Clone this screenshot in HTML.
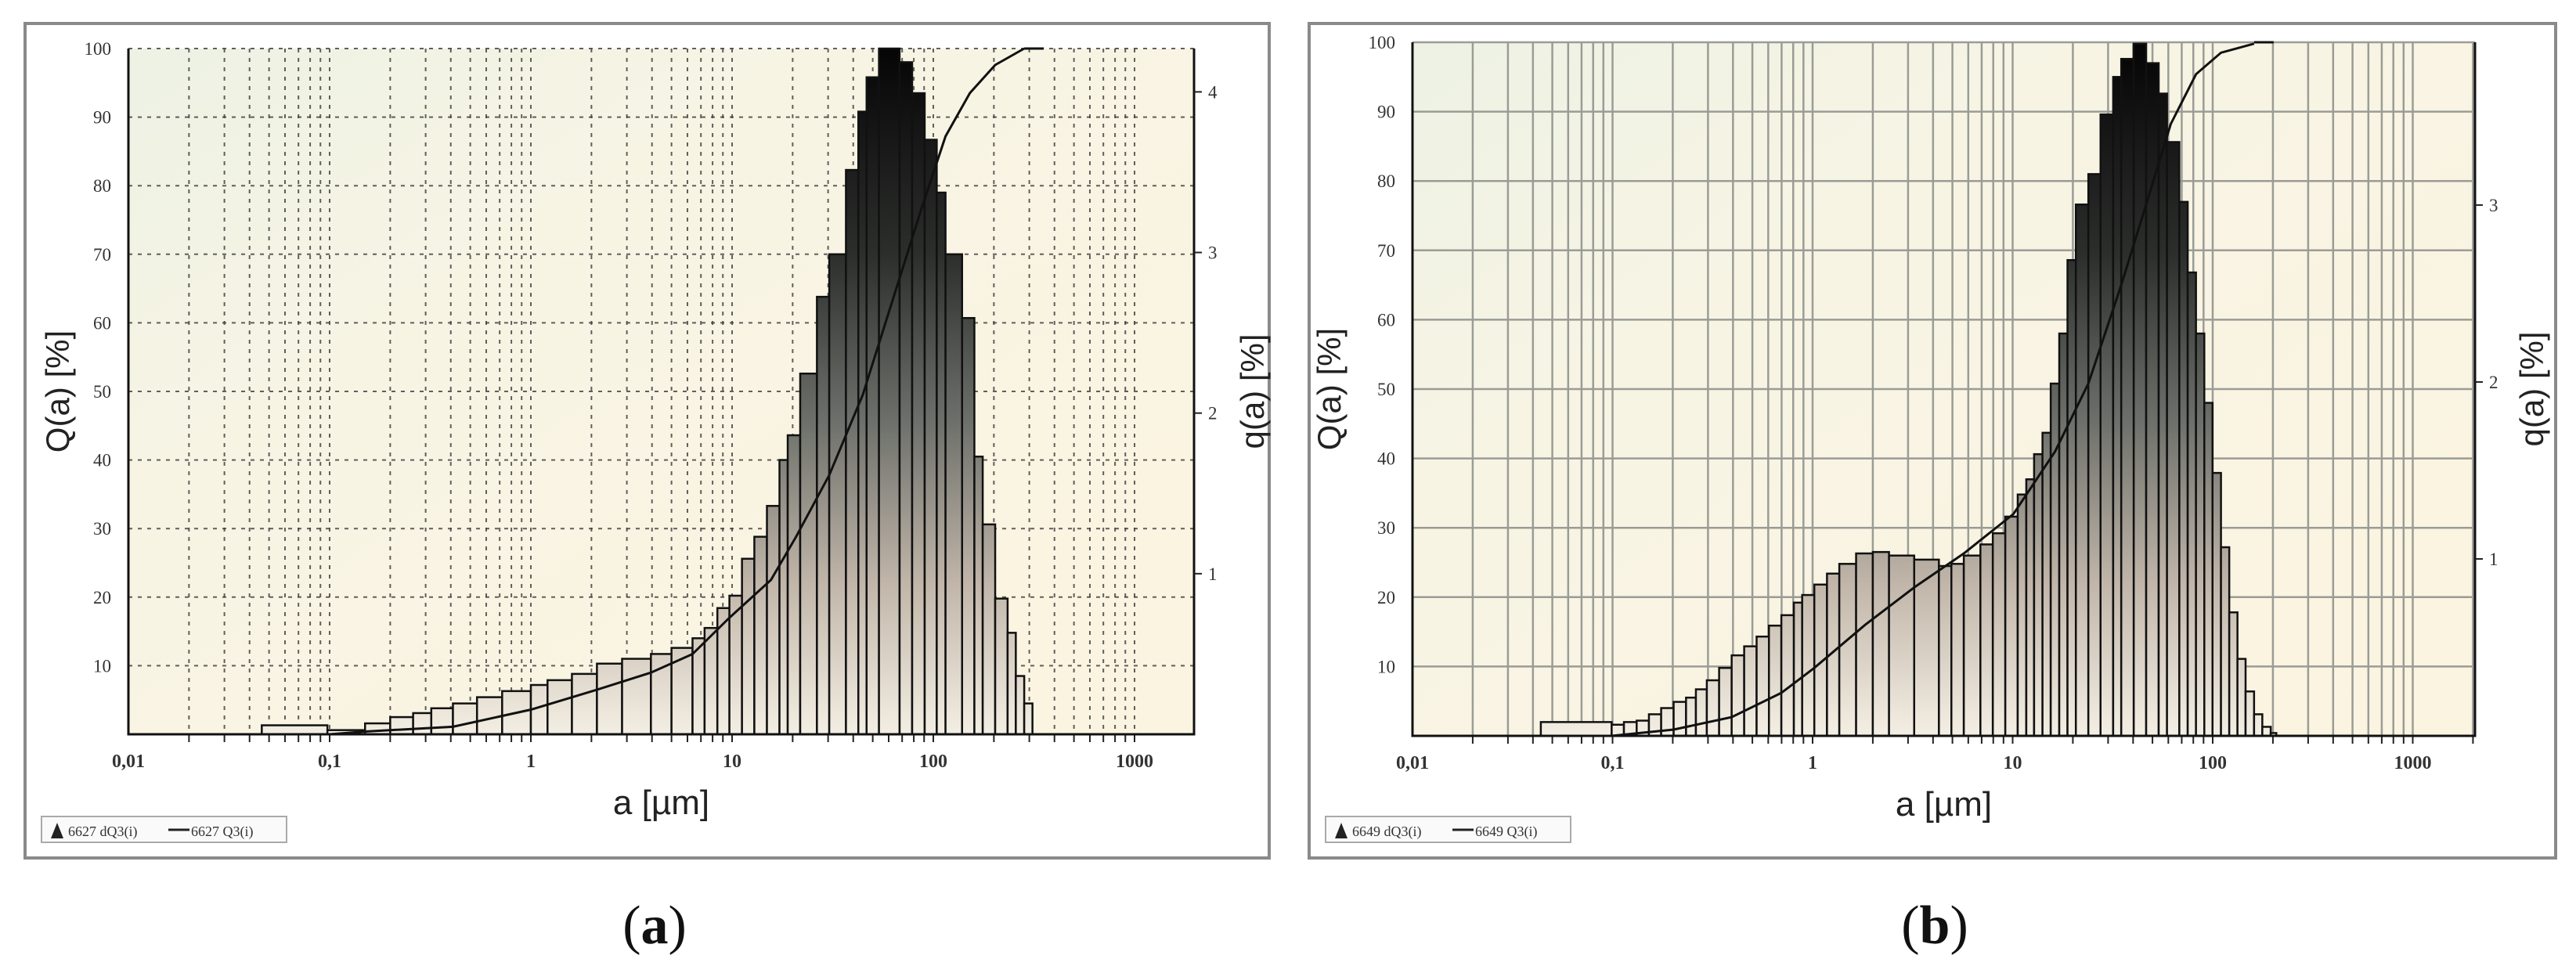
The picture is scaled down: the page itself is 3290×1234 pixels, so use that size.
<!DOCTYPE html>
<html><head><meta charset="utf-8">
<style>
html,body{margin:0;padding:0;background:#fff;}
svg{display:block;}
text{font-family:"Liberation Serif",serif;}
</style></head>
<body>
<svg id="fig" width="3290" height="1234" viewBox="0 0 3290 1234" xmlns="http://www.w3.org/2000/svg">
<defs>
<linearGradient id="bgGrad" x1="0" y1="0" x2="1" y2="1">
<stop offset="0" stop-color="#edf2e4"/><stop offset="0.35" stop-color="#f8f4e4"/><stop offset="1" stop-color="#fbf4e0"/>
</linearGradient>
<linearGradient id="barGrad" gradientUnits="userSpaceOnUse" x1="0" y1="60" x2="0" y2="941">
<stop offset="0" stop-color="#050505"/><stop offset="0.3" stop-color="#2c2e2c"/><stop offset="0.55" stop-color="#6f726c"/><stop offset="0.78" stop-color="#c2b6aa"/><stop offset="1" stop-color="#f4efe4"/>
</linearGradient>
</defs>
</svg>
<script>
// ---- Panel (a) data ----
const edgesA = [0.046,0.0975,0.15,0.2,0.26,0.32,0.41,0.54,0.72,1.0,1.21,1.6,2.13,2.84,3.95,5.0,6.36,7.3,8.45,9.7,11.2,12.9,14.9,17.2,18.9,21.8,26.4,30.4,36.8,42.4,46.6,53.7,68,78.5,90.6,104,115,139,160,176,203,234,257,283,311];
const qA = [0.056,0.026,0.068,0.107,0.132,0.162,0.192,0.231,0.269,0.307,0.337,0.376,0.44,0.47,0.5,0.538,0.598,0.662,0.786,0.863,1.093,1.23,1.422,1.708,1.862,2.246,2.724,2.989,3.514,3.877,4.091,4.27,4.185,3.992,3.702,3.373,2.989,2.592,1.729,1.307,0.845,0.632,0.363,0.192];
const cumSizeA = [0.1,0.15,0.41,1,2.13,3.95,6.36,9.7,15.6,20.8,30.4,44.6,65,86.8,115,152,203,283];
const cumQA = [0,0.4,1.1,3.6,6.5,9,11.7,17,22.5,28.8,37.8,49.5,64.7,76.4,87.2,93.5,97.6,100];
// ---- Panel (b) data ----
const edgesB = [0.0438,0.099,0.114,0.132,0.152,0.175,0.202,0.233,0.261,0.296,0.341,0.394,0.455,0.525,0.605,0.698,0.806,0.887,1.02,1.18,1.36,1.65,2.0,2.41,3.22,4.28,4.94,5.70,6.90,7.96,9.19,10.6,11.7,12.8,14.1,15.5,17.1,18.8,20.7,23.9,27.5,31.8,34.9,40.3,46.5,53.7,59.1,68.1,75,82.5,90.8,99.8,110,121,133,146,161,177,195,208];
const qB = [0.078,0.063,0.078,0.086,0.122,0.157,0.192,0.216,0.263,0.314,0.384,0.455,0.506,0.561,0.623,0.682,0.753,0.796,0.855,0.917,0.972,1.031,1.039,1.019,0.996,0.96,0.972,1.019,1.082,1.145,1.239,1.364,1.45,1.592,1.713,1.991,2.274,2.689,3.003,3.175,3.512,3.724,3.826,3.912,3.802,3.63,3.356,3.018,2.619,2.274,1.882,1.486,1.066,0.698,0.435,0.251,0.122,0.051,0.016];
const cumSizeB = [0.099,0.202,0.394,0.698,1.02,1.83,3.22,5.70,10.1,16.3,23.9,34.9,46.5,61.7,82.5,110,161];
const cumQB = [0,0.9,2.7,6.2,9.8,16,21.4,26.3,32,41,50.8,65,76.6,88.2,95.4,98.5,99.8];
// ---- Axis ticks ----
const xTickLabels = ["0,01","0,1","1","10","100","1000"];
const xTickValues = [0.01,0.1,1,10,100,1000];
const yTicksQ = [10,20,30,40,50,60,70,80,90,100];
const yTicksRightA = [1,2,3,4];
const yTicksRightB = [1,2,3];

const NS = "http://www.w3.org/2000/svg";
const svg = document.getElementById('fig');
function mk(tag, attrs, parent){
  const e = document.createElementNS(NS, tag);
  for (const k in attrs) e.setAttribute(k, attrs[k]);
  (parent||svg).appendChild(e);
  return e;
}

function drawPanel(c){
  const g = mk('g', {});
  
  
  const xs = v => c.left + (Math.log10(v) + 2) * c.decade;
  const yQ = v => c.bottom - v / 100 * (c.bottom - c.top);
  const yq = v => c.bottom - v / c.qMax * (c.bottom - c.top);

  const frame = mk('rect', {x:c.fx, y:c.fy, width:c.fw, height:c.fh, fill:'#fff', stroke:'#8a8a8a', 'stroke-width':4}, g);
  
  

  const bg = mk('rect', {x:c.left, y:c.top, width:c.right-c.left, height:c.bottom-c.top, fill:'url(#bgGrad)'}, g);
  
  

  const grid = mk('g', {}, g);
  
  
  const gridStyle = c.dashed ? {stroke:'#3a3a3a', 'stroke-width':2, 'stroke-dasharray':'5,7', opacity:0.8} : {stroke:'#9a9c96', 'stroke-width':2.5};
  for (let d = -2; d <= 3; d++){
    for (let m = 1; m <= 9; m++){
      const v = m * Math.pow(10, d);
      const x = xs(v);
      if (x <= c.left + 1 || x > c.right) continue;
      const ln = mk('line', Object.assign({x1:x, x2:x, y1:c.top, y2:c.bottom}, gridStyle), grid);
      
      
      const tk = mk('line', {x1:x, x2:x, y1:c.bottom, y2:c.bottom + 10, stroke:'#222', 'stroke-width':2}, grid);
      
      
    }
  }
  yTicksQ.forEach(t => {
    const y = yQ(t);
    const ln = mk('line', Object.assign({x1:c.left, x2:c.right, y1:y, y2:y}, gridStyle), grid);
    
    
    const lb = mk('text', {x:c.left - 22, y:y + 8, 'font-size':23, 'text-anchor':'end', fill:'#333'}, g);
    lb.textContent = String(t);
    
    
  });

  const bars = mk('g', {}, g);
  
  
  c.q.forEach((v, i) => {
    const x0 = xs(c.edges[i]), x1 = xs(c.edges[i+1]);
    const y = yq(v);
    const r = mk('rect', {x:x0, y:y, width:x1 - x0, height:c.bottom - y, fill:'url(#barGrad)', stroke:'#111', 'stroke-width':2.5}, bars);
    
    
  });

  let d = '';
  c.cumSize.forEach((s, i) => { d += (i ? 'L' : 'M') + xs(s).toFixed(1) + ',' + yQ(c.cumQ[i]).toFixed(1); });
  const p = mk('path', {d:d, fill:'none', stroke:'#111', 'stroke-width':3}, g);
  
  
  const last = c.cumSize[c.cumSize.length - 1];
  const flat = mk('line', {x1:xs(last), x2:xs(last) + 25, y1:yQ(100), y2:yQ(100), stroke:'#111', 'stroke-width':3}, g);
  
  

  const ax = mk('path', {d:`M${c.left},${c.top}V${c.bottom}H${c.right}V${c.top}`, fill:'none', stroke:'#111', 'stroke-width':3}, g);
  
  

  xTickValues.forEach((v, i) => {
    const t = mk('text', {x:xs(v), y:c.bottom + 42, 'font-size':24, 'font-weight':'bold', 'text-anchor':'middle', fill:'#333'}, g);
    t.textContent = xTickLabels[i];
    
    
  });
  c.rTicks.forEach(v => {
    const y = yq(v);
    const tk = mk('line', {x1:c.right, x2:c.right + 10, y1:y, y2:y, stroke:'#222', 'stroke-width':2}, g);
    
    
    const t = mk('text', {x:c.right + 18, y:y + 8, 'font-size':23, fill:'#333'}, g);
    t.textContent = String(v);
    
    
  });

  const xt = mk('text', {x:(c.left + c.right) / 2, y:c.bottom + 102, 'font-size':44, 'text-anchor':'middle', fill:'#222', style:'font-family:"Liberation Sans",sans-serif'}, g);
  xt.textContent = 'a [µm]';
  
  
  const ly = (c.top + c.bottom) / 2;
  const yt = mk('text', {x:c.ltx, y:ly, 'font-size':42, 'text-anchor':'middle', fill:'#222', transform:`rotate(-90 ${c.ltx} ${ly})`, style:'font-family:"Liberation Sans",sans-serif'}, g);
  yt.textContent = 'Q(a) [%]';
  
  
  const rt = mk('text', {x:c.rtx, y:ly, 'font-size':42, 'text-anchor':'middle', fill:'#222', transform:`rotate(-90 ${c.rtx} ${ly})`, style:'font-family:"Liberation Sans",sans-serif'}, g);
  rt.textContent = 'q(a) [%]';
  
  

  const lg = mk('g', {}, g);
  
  
  mk('rect', {x:c.fx + 21, y:1043, width:313, height:33, fill:'#fafafa', stroke:'#aaa', 'stroke-width':2}, lg);
  const tri = mk('path', {d:`M${c.fx+33},1071 L${c.fx+41},1051 L${c.fx+49},1071 Z`, fill:'#222'}, lg);
  
  
  const t1 = mk('text', {x:c.fx + 55, y:1068, 'font-size':18, fill:'#333'}, lg);
  t1.textContent = c.code + ' dQ3(i)';
  
  
  const l2 = mk('line', {x1:c.fx + 183, x2:c.fx + 210, y1:1060, y2:1060, stroke:'#222', 'stroke-width':3}, lg);
  
  
  const t2 = mk('text', {x:c.fx + 212, y:1068, 'font-size':18, fill:'#333'}, lg);
  t2.textContent = c.code + ' Q3(i)';
  
  

  const pl = mk('text', {x:c.labelX, y:1205, 'font-size':70, 'text-anchor':'middle', fill:'#111'}, svg);
  pl.innerHTML = '(<tspan font-weight="bold">' + c.letter + '</tspan>)';
  
  
}

drawPanel({id:'panel-a', letter:'a', code:'6627', fx:32, fy:30, fw:1589, fh:1066,
  left:164, right:1525, top:62, bottom:938, decade:257, qMax:4.27, dashed:true,
  edges:edgesA, q:qA, cumSize:cumSizeA, cumQ:cumQA, rTicks:yTicksRightA,
  ltx:88, rtx:1614, labelX:836});
drawPanel({id:'panel-b', letter:'b', code:'6649', fx:1672, fy:30, fw:1592, fh:1066,
  left:1804, right:3161, top:54, bottom:940, decade:255.5, qMax:3.92, dashed:false,
  edges:edgesB, q:qB, cumSize:cumSizeB, cumQ:cumQB, rTicks:yTicksRightB,
  ltx:1712, rtx:3248, labelX:2471});
</script>
</body></html>
